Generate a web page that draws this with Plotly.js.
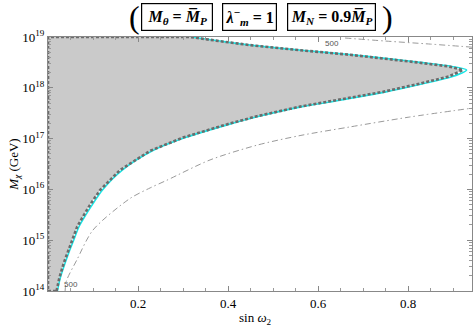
<!DOCTYPE html>
<html>
<head>
<meta charset="utf-8">
<script src="https://cdn.plot.ly/plotly-3.0.1.min.js"></script>
<style>
  html, body { margin: 0; padding: 0; background: #fff; }
  #chart { width: 475px; height: 327px; }
</style>
</head>
<body>
<div id="chart"></div>
<script>
// excluded region boundary (sin w2, log10 M_chi)
var lowX = [0.019, 0.025, 0.035, 0.045, 0.053, 0.065, 0.08, 0.095, 0.116, 0.16, 0.227, 0.30, 0.397, 0.464, 0.56, 0.633, 0.744, 0.82, 0.89, 0.922];
var lowLogM = [14.0, 14.25, 14.55, 14.8, 15.0, 15.27, 15.5, 15.72, 15.99, 16.38, 16.76, 17.02, 17.28, 17.44, 17.63, 17.74, 17.92, 18.07, 18.22, 18.35];
var upX = [0.89, 0.82, 0.744, 0.671, 0.56, 0.449, 0.38, 0.316];
var upLogM = [18.42, 18.5, 18.58, 18.65, 18.74, 18.84, 18.92, 19.0];

// cyan contour
var cyanLowX = [0.021, 0.027, 0.038, 0.048, 0.057, 0.069, 0.084, 0.1, 0.121, 0.165, 0.232, 0.305, 0.402, 0.469, 0.565, 0.639, 0.751, 0.828, 0.899, 0.93];
var cyanUpX = [0.897, 0.826, 0.749, 0.675, 0.563, 0.451, 0.382, 0.318];

// dot-dashed "500" contour
var ddLowX = [0.038, 0.041, 0.064, 0.10, 0.182, 0.227, 0.264, 0.36, 0.464, 0.56, 0.671, 0.80, 0.942];
var ddLowLogM = [14.0, 14.2, 14.61, 15.2, 15.82, 16.03, 16.18, 16.58, 16.87, 17.06, 17.23, 17.42, 17.6];
var ddUpX = [0.66, 0.75, 0.85, 0.942];
var ddUpLogM = [18.98, 18.92, 18.86, 18.8];

var yTicks = [14, 15, 16, 17, 18, 19];
var xTicks = [0.2, 0.4, 0.6, 0.8];

function pow10(a) { return a.map(function(v) { return Math.pow(10, v); }); }

// closed polygon: lower branch, tip, upper branch, top edge, left edge
var regX = lowX.concat(upX, [0, 0, lowX[0]]);
var regY = pow10(lowLogM.concat(upLogM, [19, 14, lowLogM[0]]));

var cyanX = cyanLowX.concat(cyanUpX);
var cyanY = pow10(lowLogM.concat(upLogM));

var serif = 'Liberation Serif, Times New Roman, serif';
var ddStyle = { color: '#9a9a9a', width: 1, dash: '6px,3px,1.5px,3px', shape: 'spline', smoothing: 0.8 };

var data = [
    {
        x: regX, y: regY, type: 'scatter', mode: 'lines',
        fill: 'toself', fillcolor: '#cacaca',
        line: { width: 0 }, hoverinfo: 'skip'
    },
    { x: ddLowX, y: pow10(ddLowLogM), type: 'scatter', mode: 'lines', line: ddStyle },
    { x: ddUpX, y: pow10(ddUpLogM), type: 'scatter', mode: 'lines', line: ddStyle },
    {
        x: cyanX, y: cyanY, type: 'scatter', mode: 'lines',
        line: { color: '#19e6e6', width: 1.6, shape: 'spline', smoothing: 0.8 }
    },
    {
        x: regX, y: regY, type: 'scatter', mode: 'lines',
        line: { color: '#6b6b6b', width: 2.6, dash: '3px,2px' }
    }
];

var tickFont = { family: serif, size: 13, color: '#000' };

function note(x, y, text, size, extra) {
    var a = { xref: 'paper', yref: 'paper', x: x, y: y, xanchor: 'center', yanchor: 'middle',
              showarrow: false, text: text, font: { family: serif, size: size, color: '#000' } };
    for (var k in extra) a[k] = extra[k];
    return a;
}
function box(w) {
    return { bordercolor: '#000', borderwidth: 1.2, borderpad: 2, width: w, height: 22 };
}

var layout = {
    width: 475,
    height: 327,
    margin: { l: 48, r: 3, t: 37, b: 36 },
    paper_bgcolor: '#fff',
    plot_bgcolor: '#fff',
    showlegend: false,
    xaxis: {
        range: [0, 0.942],
        tickvals: xTicks,
        ticktext: xTicks.map(function(v) { return v.toFixed(1); }),
        ticks: 'inside', ticklen: 5, tickcolor: '#888',
        minor: { dtick: 0.05, tick0: 0, ticks: 'inside', ticklen: 3, tickcolor: '#999' },
        showline: true, linecolor: '#888', linewidth: 1, mirror: 'ticks',
        showgrid: false, zeroline: false,
        tickfont: tickFont
    },
    yaxis: {
        type: 'log',
        range: [14, 19],
        tickvals: pow10(yTicks),
        ticktext: yTicks.map(function(e) { return '10<sup>' + e + '</sup>'; }),
        ticks: 'inside', ticklen: 5, tickcolor: '#888',
        minor: { dtick: 'D1', ticks: 'inside', ticklen: 3, tickcolor: '#999' },
        showline: true, linecolor: '#888', linewidth: 1, mirror: 'ticks',
        showgrid: false, zeroline: false,
        tickfont: tickFont,
        title: { text: '<i>M</i><sub><i>χ</i></sub> (GeV)', standoff: 0,
                 font: { family: serif, size: 13, color: '#000' } }
    },
    annotations: [
        note(0.49, -0.108, 'sin <i>ω</i><sub>2</sub>', 13, {}),
        note(0.205, 1.079, '(', 32, {}),
        note(0.8, 1.079, ')', 32, {}),
        note(0.304, 1.079, '<b><i>M<sub>θ</sub></i> = <i>M\u0305<sub>P</sub></i></b>', 16, box(66)),
        note(0.476, 1.079, '<b><i>λ</i><sup>−</sup><sub><i>m</i></sub> = 1</b>', 16, box(49)),
        note(0.669, 1.079, '<b><i>M<sub>N</sub></i> = 0.9<i>M\u0305<sub>P</sub></i></b>', 16, box(83)),
        { xref: 'x', yref: 'y', x: 0.63, y: 19, yanchor: 'top', showarrow: false,
          text: '500', font: { family: 'Liberation Sans, sans-serif', size: 8, color: '#555' } },
        { xref: 'x', yref: 'y', x: 0.03, y: 14, yanchor: 'bottom', xanchor: 'left', showarrow: false,
          text: '500', font: { family: 'Liberation Sans, sans-serif', size: 8, color: '#555' } }
    ]
};

Plotly.newPlot('chart', data, layout, { staticPlot: true, displayModeBar: false });
</script>
</body>
</html>
